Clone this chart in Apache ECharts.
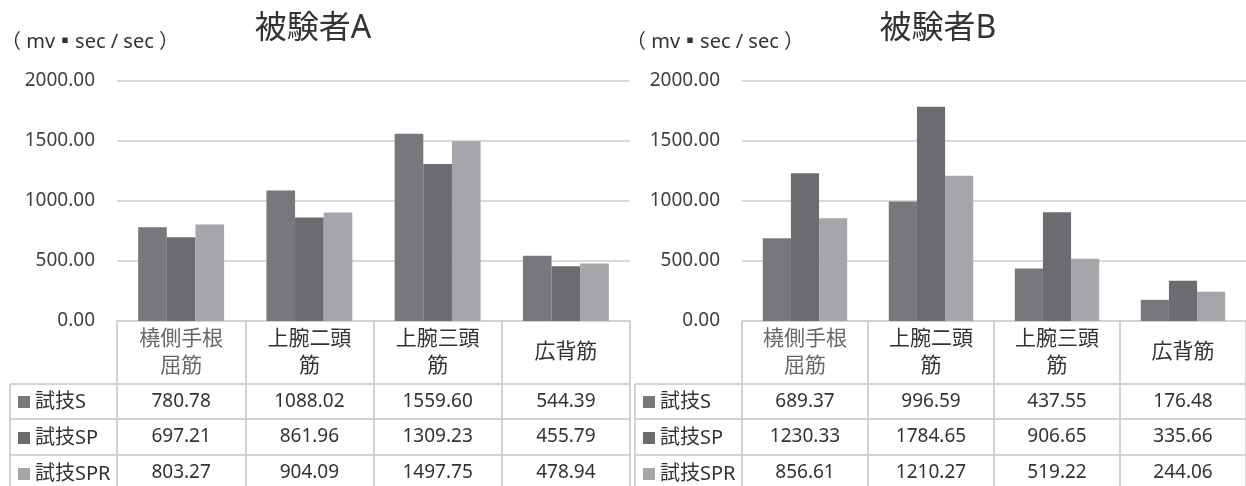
<!DOCTYPE html>
<html>
<head>
<meta charset="utf-8">
<script src="https://cdn.jsdelivr.net/npm/echarts@6/dist/echarts.min.js"></script>
<style>
  html, body { margin: 0; padding: 0; background: #ffffff; }
  #chart { width: 1246px; height: 486px; }
</style>
</head>
<body>
<div id="chart"></div>
<script>
// ---- data ----
const muscles = ['橈側手根\n屈筋', '上腕二頭\n筋', '上腕三頭\n筋', '広背筋'];
const trials = ['試技S', '試技SP', '試技SPR'];
const subjectTitles = ['被験者A', '被験者B'];
const unitLabel = '（ mv▪sec / sec ）';

const subjectA_S   = [780.78, 1088.02, 1559.60, 544.39];
const subjectA_SP  = [697.21, 861.96, 1309.23, 455.79];
const subjectA_SPR = [803.27, 904.09, 1497.75, 478.94];

const subjectB_S   = [689.37, 996.59, 437.55, 176.48];
const subjectB_SP  = [1230.33, 1784.65, 906.65, 335.66];
const subjectB_SPR = [856.61, 1210.27, 519.22, 244.06];

const yMin = 0, yMax = 2000, yStep = 500;

// ---- layout & style ----
const FONT = "'Noto Sans', 'Noto Sans CJK JP', sans-serif";
const TEXT = '#333333';
const LINE = '#d3d3d3';
const COLORS = ['#77787b', '#6b6c6f', '#a5a6a9'];
const W = 1246, H = 486;
const GRID_TOP = 81, GRID_BOTTOM = 165;          // plot floor at y = 321
const ZERO_Y = H - GRID_BOTTOM;
const ROW_H = [63, 35, 36, 40];                   // header row, then one row per trial
const panels = [
  { left: 117, right: W - 630, tableLeft: 10,  titleX: 313, unitX: 1 },
  { left: 742, right: -9,      tableLeft: 635, titleX: 938, unitX: 626 }
];
const seriesData = [
  [subjectA_S, subjectA_SP, subjectA_SPR],
  [subjectB_S, subjectB_SP, subjectB_SPR]
];

const grid = [], xAxis = [], yAxis = [], series = [], legend = [], graphic = [];

panels.forEach((p, pi) => {
  grid.push({ left: p.left, right: p.right, top: GRID_TOP, bottom: GRID_BOTTOM, containLabel: false });

  yAxis.push({
    type: 'value', gridIndex: pi, min: yMin, max: yMax, interval: yStep,
    axisLine: { show: false }, axisTick: { show: false },
    splitLine: { show: true, lineStyle: { color: '#d9d9d9', width: 2 } },
    axisLabel: {
      margin: 22, fontSize: 19, color: '#404040', fontFamily: FONT,
      formatter: v => v.toFixed(2)
    }
  });

  // stacked category axes: header row + one table row per trial
  let offset = 0;
  const firstAxis = xAxis.length;
  ROW_H.forEach((h, ri) => {
    const rowValues = ri === 0 ? null : seriesData[pi][ri - 1];
    xAxis.push({
      type: 'category', gridIndex: pi, position: 'bottom', offset: offset,
      data: muscles,
      axisLine: { show: true, lineStyle: { color: LINE, width: 2 } },
      axisTick: { show: true, interval: 0, alignWithLabel: false, length: h, lineStyle: { color: LINE, width: 2 } },
      splitLine: { show: false },
      axisLabel: {
        interval: 0, margin: (ri === 0 ? ROW_H[0] : Math.min(h, 36)) / 2,
        verticalAlign: 'middle',
        fontSize: ri === 0 ? 21 : 19, lineHeight: ri === 0 ? 27 : 22, fontFamily: FONT,
        color: ri === 0 ? ((v, i) => (i === 0 ? '#666666' : TEXT)) : TEXT,
        formatter: rowValues ? ((v, i) => rowValues[i].toFixed(2)) : (v => v)
      }
    });
    offset += h;
  });

  trials.forEach((name, si) => {
    series.push({
      type: 'bar', name: name, xAxisIndex: firstAxis, yAxisIndex: pi,
      data: seriesData[pi][si],
      barGap: '0%', barCategoryGap: '33%',
      itemStyle: { color: COLORS[si] },
      emphasis: { disabled: true }
    });
  });

  // legend column on the left of the table rows
  legend.push({
    orient: 'vertical', left: p.tableLeft + 8, top: ZERO_Y + ROW_H[0] + 8,
    padding: 0, itemWidth: 12, itemHeight: 12, itemGap: 16,
    icon: 'rect', selectedMode: false, data: trials,
    textStyle: { fontSize: 20, lineHeight: 20, color: TEXT, fontFamily: FONT }
  });

  // borders of the legend column
  let y = ZERO_Y + ROW_H[0];
  for (let r = 1; r < ROW_H.length; r++) {
    graphic.push({
      type: 'line', silent: true,
      shape: { x1: p.tableLeft, y1: y, x2: p.left, y2: y },
      style: { stroke: LINE, lineWidth: 2 }
    });
    y += ROW_H[r];
  }
  graphic.push({
    type: 'line', silent: true,
    shape: { x1: p.tableLeft, y1: ZERO_Y + ROW_H[0], x2: p.tableLeft, y2: H },
    style: { stroke: LINE, lineWidth: 2 }
  });

  // panel title and unit
  graphic.push({
    type: 'text', silent: true, x: p.titleX, y: 29,
    style: { text: subjectTitles[pi], font: `32px ${FONT}`, fill: TEXT, textAlign: 'center', textVerticalAlign: 'middle' }
  });
  graphic.push({
    type: 'text', silent: true, x: p.unitX, y: 42,
    style: { text: unitLabel, font: `20px ${FONT}`, fill: TEXT, textAlign: 'left', textVerticalAlign: 'middle' }
  });
});

const chart = echarts.init(document.getElementById('chart'), null, { renderer: 'canvas' });
chart.setOption({
  animation: false,
  backgroundColor: '#ffffff',
  textStyle: { fontFamily: FONT },
  grid, xAxis, yAxis, series, legend, graphic
});
</script>
</body>
</html>
